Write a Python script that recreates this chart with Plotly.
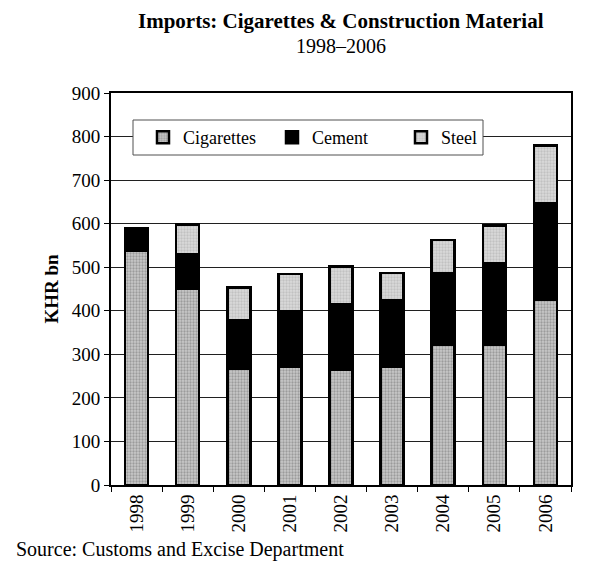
import plotly.graph_objects as go

# data (KHR bn)
years = ["1998", "1999", "2000", "2001", "2002", "2003", "2004", "2005", "2006"]
cigarettes = [537, 450, 266, 271, 264, 271, 323, 323, 425]
cement = [52, 80, 113, 127, 152, 153, 164, 187, 223]
steel = [0, 68, 75, 87, 86, 63, 75, 86, 131]

y_ticks = list(range(0, 901, 100))

FONT = "Liberation Serif, Times New Roman, serif"
W, H = 597, 565
L, R, T, B = 103, 34, 85, 88
PW, PH = W - L - R, H - T - B


def px(x):
    return (x - L) / PW


def py(y):
    return (H - B - y) / PH


fig = go.Figure()
fig.add_trace(
    go.Bar(
        x=years,
        y=cigarettes,
        name="Cigarettes",
        marker=dict(
            color="#b4b4b4",
            line=dict(color="black", width=2.5),
            pattern=dict(shape=".", fgcolor="#6e6e6e", bgcolor="#c8c8c8", size=3, solidity=0.45),
        ),
    )
)
fig.add_trace(
    go.Bar(
        x=years,
        y=cement,
        name="Cement",
        marker=dict(color="black", line=dict(color="black", width=2.5)),
    )
)
fig.add_trace(
    go.Bar(
        x=years,
        y=steel,
        name="Steel",
        marker=dict(
            color="#cccccc",
            line=dict(color="black", width=2.5),
            pattern=dict(shape=".", fgcolor="#a8a8a8", bgcolor="#dadada", size=3, solidity=0.45),
        ),
    )
)

fig.update_layout(
    barmode="stack",
    bargap=0.55,
    width=W,
    height=H,
    margin=dict(l=L, r=R, t=T, b=B),
    paper_bgcolor="white",
    plot_bgcolor="white",
    font=dict(family=FONT, size=19, color="black"),
    legend=dict(
        orientation="h",
        x=px(135),
        y=py(129.5),
        xanchor="left",
        yanchor="middle",
        bgcolor="rgba(0,0,0,0)",
        borderwidth=0,
        font=dict(family=FONT, size=18, color="black"),
        entrywidth=84,
        entrywidthmode="pixels",
        itemwidth=30,
        traceorder="normal",
    ),
    showlegend=True,
)

# legend frame
fig.add_shape(
    type="rect",
    xref="paper",
    yref="paper",
    x0=px(125),
    x1=px(475),
    y0=py(147),
    y1=py(112),
    line=dict(color="#505050", width=1),
    fillcolor="white",
    layer="above",
)

fig.update_yaxes(
    range=[0, 900],
    tickvals=y_ticks,
    showgrid=True,
    gridcolor="#202020",
    gridwidth=1,
    showline=True,
    linecolor="black",
    linewidth=2,
    mirror=True,
    ticks="outside",
    ticklen=5,
    tickcolor="black",
    zeroline=False,
    title=dict(text="<b>KHR bn</b>", font=dict(family=FONT, size=19), standoff=8),
    tickfont=dict(family=FONT, size=19),
)
fig.update_xaxes(
    type="category",
    showline=True,
    linecolor="black",
    linewidth=2,
    mirror=True,
    ticks="outside",
    tickson="boundaries",
    ticklen=5,
    tickcolor="black",
    tickangle=-90,
    tickfont=dict(family=FONT, size=19),
    showgrid=False,
)

fig.add_annotation(
    text="<b>Imports: Cigarettes &amp; Construction Material</b>",
    xref="paper", yref="paper",
    x=0.5, y=py(13), xanchor="center", yanchor="middle",
    showarrow=False,
    font=dict(family=FONT, size=21, color="black"),
)
fig.add_annotation(
    text="1998–2006",
    xref="paper", yref="paper",
    x=0.5, y=py(38), xanchor="center", yanchor="middle",
    showarrow=False,
    font=dict(family=FONT, size=20, color="black"),
)
fig.add_annotation(
    text="Source: Customs and Excise Department",
    xref="paper", yref="paper",
    x=px(6), y=py(541), xanchor="left", yanchor="middle",
    showarrow=False,
    font=dict(family=FONT, size=20, color="black"),
)

fig.write_html("out.html")
